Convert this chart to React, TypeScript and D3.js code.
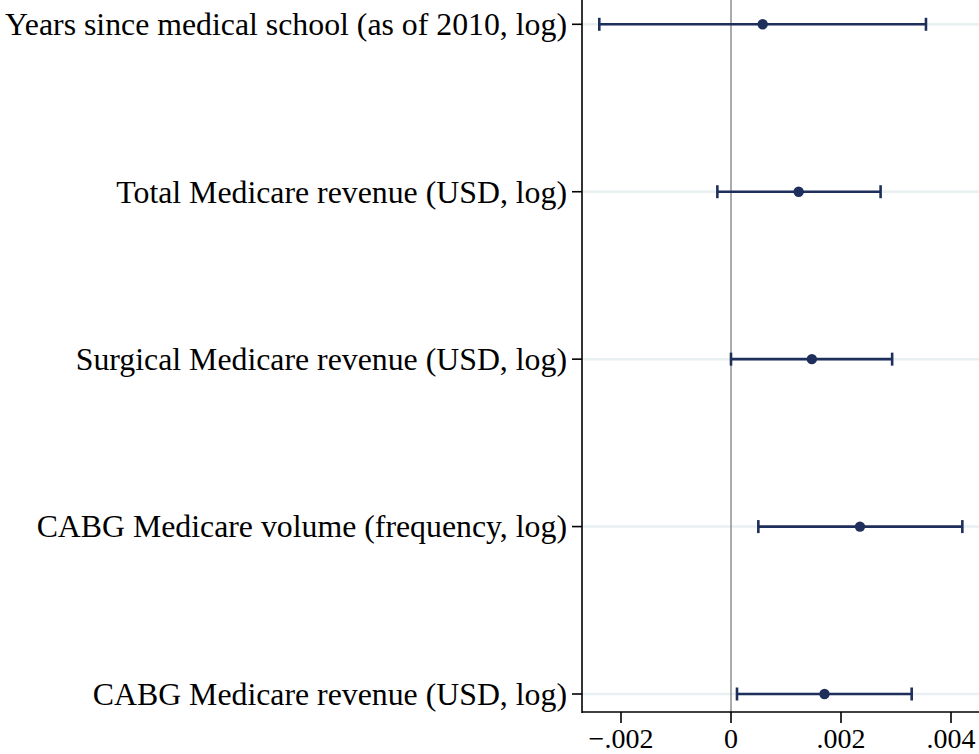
import React, { useEffect, useRef } from "react";
import * as d3 from "d3";

const labels = [
  "Years since medical school (as of 2010, log)",
  "Total Medicare revenue (USD, log)",
  "Surgical Medicare revenue (USD, log)",
  "CABG Medicare volume (frequency, log)",
  "CABG Medicare revenue (USD, log)",
];
const estimates = [0.000576, 0.00123, 0.00147, 0.002345, 0.0017];
const lowers = [-0.002395, -0.000248, 0.0, 0.000497, 0.000109];
const uppers = [0.003545, 0.00272, 0.00293, 0.004206, 0.003285];
const xTicks = [-0.002, 0, 0.002, 0.004];
const xTickLabels = ["\u2212.002", "0", ".002", ".004"];

const W = 979;
const H = 754;
const NAVY = "#1f2f5c";

export default function App() {
  const ref = useRef<SVGSVGElement>(null);

  useEffect(() => {
    const svg = d3.select(ref.current);
    svg.selectAll("*").remove();

    const axisX = 582;
    const axisY = 712;
    const x = d3.scaleLinear().domain([-0.002, 0.004]).range([621, 951]);
    const y = d3.scalePoint<string>().domain(labels).range([24.3, 694]);

    const font = "'Liberation Serif', 'Times New Roman', serif";

    // gridlines
    svg
      .append("g")
      .selectAll("line")
      .data(labels)
      .join("line")
      .attr("x1", axisX)
      .attr("x2", W)
      .attr("y1", (d) => y(d)!)
      .attr("y2", (d) => y(d)!)
      .attr("stroke", "#e9f0f2")
      .attr("stroke-width", 2.5);

    // zero line
    svg
      .append("line")
      .attr("x1", x(0))
      .attr("x2", x(0))
      .attr("y1", 0)
      .attr("y2", axisY)
      .attr("stroke", "#8f8f8f")
      .attr("stroke-width", 1.5);

    // error bars
    const g = svg.append("g");
    labels.forEach((lab, i) => {
      const yy = y(lab)!;
      g.append("line")
        .attr("x1", x(lowers[i]))
        .attr("x2", x(uppers[i]))
        .attr("y1", yy)
        .attr("y2", yy)
        .attr("stroke", NAVY)
        .attr("stroke-width", 2.6);
      [lowers[i], uppers[i]].forEach((v) => {
        g.append("line")
          .attr("x1", x(v))
          .attr("x2", x(v))
          .attr("y1", yy - 6.5)
          .attr("y2", yy + 6.5)
          .attr("stroke", NAVY)
          .attr("stroke-width", 2.6);
      });
      g.append("circle")
        .attr("cx", x(estimates[i]))
        .attr("cy", yy)
        .attr("r", 5.2)
        .attr("fill", NAVY);
    });

    // y axis
    svg
      .append("line")
      .attr("x1", axisX)
      .attr("x2", axisX)
      .attr("y1", 0)
      .attr("y2", axisY + 1)
      .attr("stroke", "#000")
      .attr("stroke-width", 1.6);
    const yt = svg.append("g");
    labels.forEach((lab) => {
      const yy = y(lab)!;
      yt.append("line")
        .attr("x1", axisX - 10)
        .attr("x2", axisX)
        .attr("y1", yy)
        .attr("y2", yy)
        .attr("stroke", "#000")
        .attr("stroke-width", 1.6);
      yt.append("text")
        .attr("x", axisX - 15)
        .attr("y", yy)
        .attr("dy", "0.34em")
        .attr("text-anchor", "end")
        .attr("font-family", font)
        .attr("font-size", 31.8)
        .attr("fill", "#000")
        .text(lab);
    });

    // x axis
    svg
      .append("line")
      .attr("x1", axisX)
      .attr("x2", W)
      .attr("y1", axisY)
      .attr("y2", axisY)
      .attr("stroke", "#000")
      .attr("stroke-width", 1.6);
    const xt = svg.append("g");
    xTicks.forEach((t, i) => {
      xt.append("line")
        .attr("x1", x(t))
        .attr("x2", x(t))
        .attr("y1", axisY)
        .attr("y2", axisY + 11)
        .attr("stroke", "#000")
        .attr("stroke-width", 1.6);
      xt.append("text")
        .attr("x", x(t))
        .attr("y", 748)
        .attr("text-anchor", "middle")
        .attr("font-family", font)
        .attr("font-size", 28)
        .attr("fill", "#000")
        .text(xTickLabels[i]);
    });
  }, []);

  return (
    <svg
      ref={ref}
      width={W}
      height={H}
      style={{ position: "fixed", left: 0, top: 0, background: "#fff" }}
    />
  );
}
